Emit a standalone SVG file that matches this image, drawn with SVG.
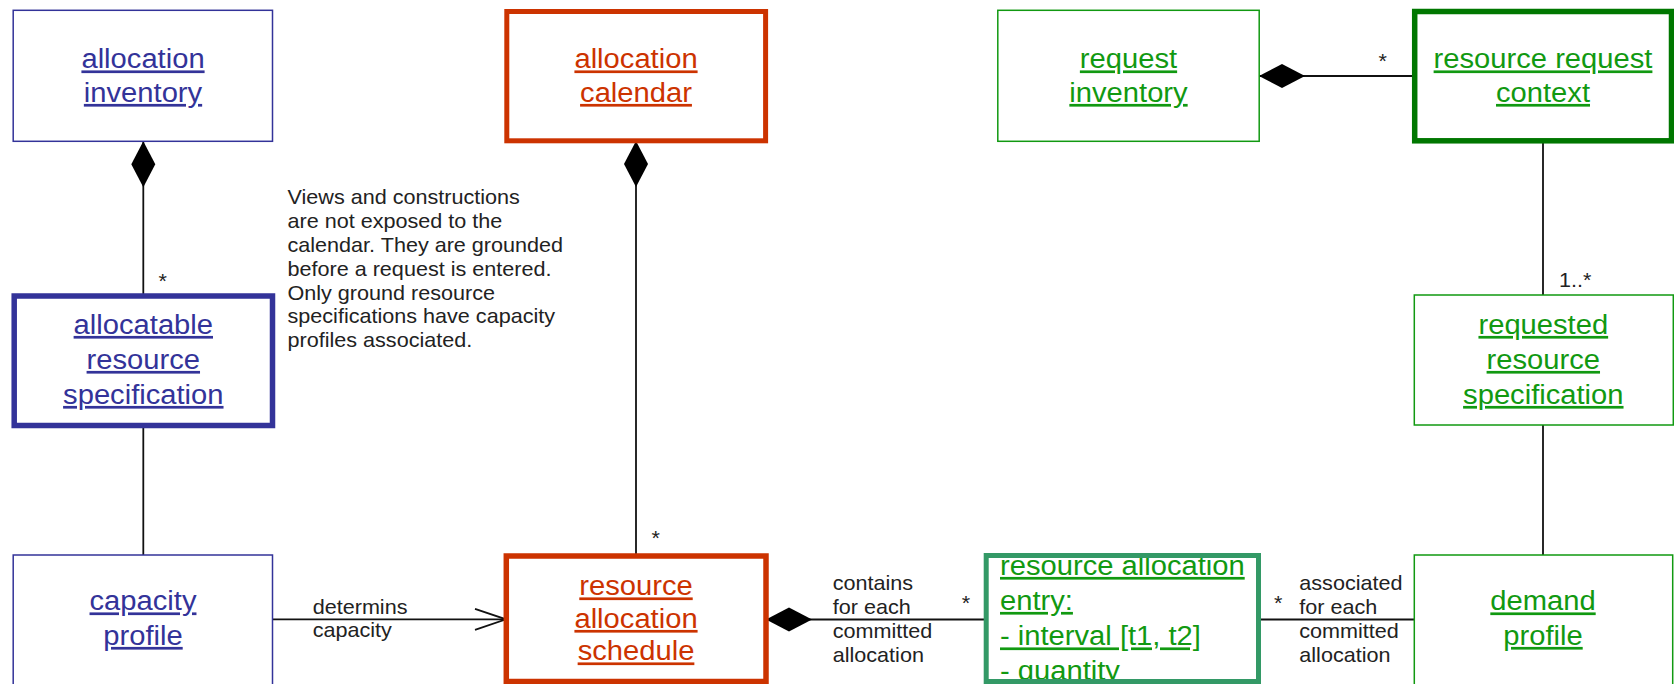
<svg xmlns="http://www.w3.org/2000/svg" width="1674" height="684" viewBox="0 0 1674 684">
  <style>
    .box { fill: #ffffff; }
    .thin { stroke-width: 1.5; }
    .thick { stroke-width: 5.5; }
    .blue { stroke: #333399; }
    .red { stroke: #cc3300; }
    .green { stroke: #119911; }
    .dkgreen { stroke: #007700; }
    .teal { stroke: #339966; }
    .lbl { font-family: "Liberation Sans", Arial, Helvetica, sans-serif; font-size: 27px; text-anchor: middle; text-decoration: underline; }
    .lbl-left { text-anchor: start; }
    .tblue { fill: #333399; }
    .tred { fill: #cc3300; }
    .tgreen { fill: #119911; }
    .small { font-family: "Liberation Sans", Arial, Helvetica, sans-serif; font-size: 20px; fill: #222222; }
    .mid { text-anchor: middle; }
    .conn { stroke: #111111; stroke-width: 1.8; fill: none; }
  </style>
  <defs>
    <!-- filled composition diamond, drawn from the owning end of a line -->
    <marker id="diamond" markerUnits="userSpaceOnUse" markerWidth="50" markerHeight="30" viewBox="-2 -14 50 28" refX="0" refY="0" orient="auto" overflow="visible">
      <path d="M0,0 L23,-12 L46,0 L23,12 Z" fill="#000000"/>
    </marker>
    <!-- open navigation arrowhead -->
    <marker id="openarrow" markerUnits="userSpaceOnUse" markerWidth="40" markerHeight="30" viewBox="-34 -14 40 28" refX="0" refY="0" orient="auto" overflow="visible">
      <path d="M-31,-10.5 L0,0 L-31,10.5" fill="none" stroke="#111111" stroke-width="1.8"/>
    </marker>
  </defs>

  <rect width="1674" height="684" fill="#ffffff"/>

  <!-- connectors -->
  <g id="connectors">
    <line class="conn" x1="143.3" y1="141.3" x2="143.3" y2="296" marker-start="url(#diamond)"/>
    <line class="conn" x1="143.3" y1="425.5" x2="143.3" y2="555"/>
    <line class="conn" x1="636" y1="141" x2="636" y2="556" marker-start="url(#diamond)"/>
    <line class="conn" x1="272.5" y1="619.3" x2="506" y2="619.3" marker-end="url(#openarrow)"/>
    <line class="conn" x1="766" y1="619.5" x2="986" y2="619.5" marker-start="url(#diamond)"/>
    <line class="conn" x1="1258.5" y1="619.5" x2="1414.3" y2="619.5"/>
    <line class="conn" x1="1259" y1="76" x2="1414.7" y2="76" marker-start="url(#diamond)"/>
    <line class="conn" x1="1543" y1="141" x2="1543" y2="295"/>
    <line class="conn" x1="1543" y1="425" x2="1543" y2="555"/>

    <!-- multiplicities and association labels -->
    <g transform="translate(162.7 0) scale(1.08 1)"><text class="small mid" x="0" y="288">*</text></g>
    <g transform="translate(655.7 0) scale(1.08 1)"><text class="small mid" x="0" y="545.5">*</text></g>
    <g transform="translate(966 0) scale(1.08 1)"><text class="small mid" x="0" y="610.5">*</text></g>
    <g transform="translate(1278.3 0) scale(1.08 1)"><text class="small mid" x="0" y="610.5">*</text></g>
    <g transform="translate(1382.6 0) scale(1.08 1)"><text class="small mid" x="0" y="68">*</text></g>
    <g transform="translate(1559 0) scale(1.08 1)"><text class="small" x="0" y="287.5">1..*</text></g>
    <g transform="translate(312.7 0) scale(1.08 1)">
      <text class="small"><tspan x="0" y="614">determins</tspan><tspan x="0" y="637.5">capacity</tspan></text>
    </g>
    <g transform="translate(832.7 0) scale(1.08 1)">
      <text class="small"><tspan x="0" y="590.5">contains</tspan><tspan x="0" y="614.3">for each</tspan><tspan x="0" y="638.1">committed</tspan><tspan x="0" y="661.9">allocation</tspan></text>
    </g>
    <g transform="translate(1299.3 0) scale(1.08 1)">
      <text class="small"><tspan x="0" y="590.5">associated</tspan><tspan x="0" y="614.3">for each</tspan><tspan x="0" y="638.1">committed</tspan><tspan x="0" y="661.9">allocation</tspan></text>
    </g>
  </g>

  <!-- free-standing note -->
  <g id="note" transform="translate(287.5 0) scale(1.08 1)">
    <text class="small">
      <tspan x="0" y="204">Views and constructions</tspan>
      <tspan x="0" y="227.9">are not exposed to the</tspan>
      <tspan x="0" y="251.8">calendar. They are grounded</tspan>
      <tspan x="0" y="275.7">before a request is entered.</tspan>
      <tspan x="0" y="299.6">Only ground resource</tspan>
      <tspan x="0" y="323.5">specifications have capacity</tspan>
      <tspan x="0" y="347.4">profiles associated.</tspan>
    </text>
  </g>

  <!-- top row -->
  <g id="allocation-inventory">
    <rect class="box thin blue" x="13.2" y="10.3" width="259.3" height="131"/>
    <g transform="translate(143 0) scale(1.08 1)">
      <text class="lbl tblue"><tspan x="0" y="68.5">allocation</tspan><tspan x="0" y="102">inventory</tspan></text>
    </g>
  </g>

  <g id="allocation-calendar">
    <rect class="box red" stroke-width="5" x="506.8" y="11.5" width="258.8" height="129.3"/>
    <g transform="translate(636 0) scale(1.08 1)">
      <text class="lbl tred"><tspan x="0" y="68.5">allocation</tspan><tspan x="0" y="102">calendar</tspan></text>
    </g>
  </g>

  <g id="request-inventory">
    <rect class="box thin green" x="997.8" y="10.3" width="261.4" height="131"/>
    <g transform="translate(1128.5 0) scale(1.08 1)">
      <text class="lbl tgreen"><tspan x="0" y="68.5">request</tspan><tspan x="0" y="102">inventory</tspan></text>
    </g>
  </g>

  <g id="resource-request-context">
    <rect class="box thick dkgreen" x="1414.7" y="11.5" width="256.8" height="129.3"/>
    <g transform="translate(1543 0) scale(1.08 1)">
      <text class="lbl tgreen"><tspan x="0" y="68.5">resource request</tspan><tspan x="0" y="102">context</tspan></text>
    </g>
  </g>

  <!-- middle row -->
  <g id="allocatable-resource-specification">
    <rect class="box thick blue" x="14.2" y="296" width="258.3" height="129.5"/>
    <g transform="translate(143.3 0) scale(1.08 1)">
      <text class="lbl tblue"><tspan x="0" y="334">allocatable</tspan><tspan x="0" y="369">resource</tspan><tspan x="0" y="404">specification</tspan></text>
    </g>
  </g>

  <g id="requested-resource-specification">
    <rect class="box thin green" x="1414.3" y="295" width="259" height="130"/>
    <g transform="translate(1543.3 0) scale(1.08 1)">
      <text class="lbl tgreen"><tspan x="0" y="334">requested</tspan><tspan x="0" y="369">resource</tspan><tspan x="0" y="404">specification</tspan></text>
    </g>
  </g>

  <!-- bottom row -->
  <g id="capacity-profile">
    <rect class="box thin blue" x="13.2" y="555" width="259.3" height="131"/>
    <g transform="translate(143 0) scale(1.08 1)">
      <text class="lbl tblue"><tspan x="0" y="610.5">capacity</tspan><tspan x="0" y="645">profile</tspan></text>
    </g>
  </g>

  <g id="resource-allocation-schedule">
    <rect class="box thick red" x="506.3" y="556" width="259.7" height="125.5"/>
    <g transform="translate(636 0) scale(1.08 1)">
      <text class="lbl tred"><tspan x="0" y="595.5">resource</tspan><tspan x="0" y="628">allocation</tspan><tspan x="0" y="660.5">schedule</tspan></text>
    </g>
  </g>

  <g id="resource-allocation-entry">
    <rect class="box" x="986.2" y="555.5" width="272.3" height="126"/>
    <g transform="translate(1000 0) scale(1.08 1)">
      <text class="lbl lbl-left tgreen"><tspan x="0" y="575">resource allocation</tspan><tspan x="0" y="610">entry:</tspan><tspan x="0" y="645.5">- interval [t1, t2]</tspan><tspan x="0" y="680">- quantity</tspan></text>
    </g>
    <rect class="teal" fill="none" stroke-width="5" x="986.2" y="555.5" width="272.3" height="126"/>
  </g>

  <g id="demand-profile">
    <rect class="box thin green" x="1414.3" y="555" width="258.4" height="131"/>
    <g transform="translate(1543 0) scale(1.08 1)">
      <text class="lbl tgreen"><tspan x="0" y="610.5">demand</tspan><tspan x="0" y="645">profile</tspan></text>
    </g>
  </g>
</svg>
